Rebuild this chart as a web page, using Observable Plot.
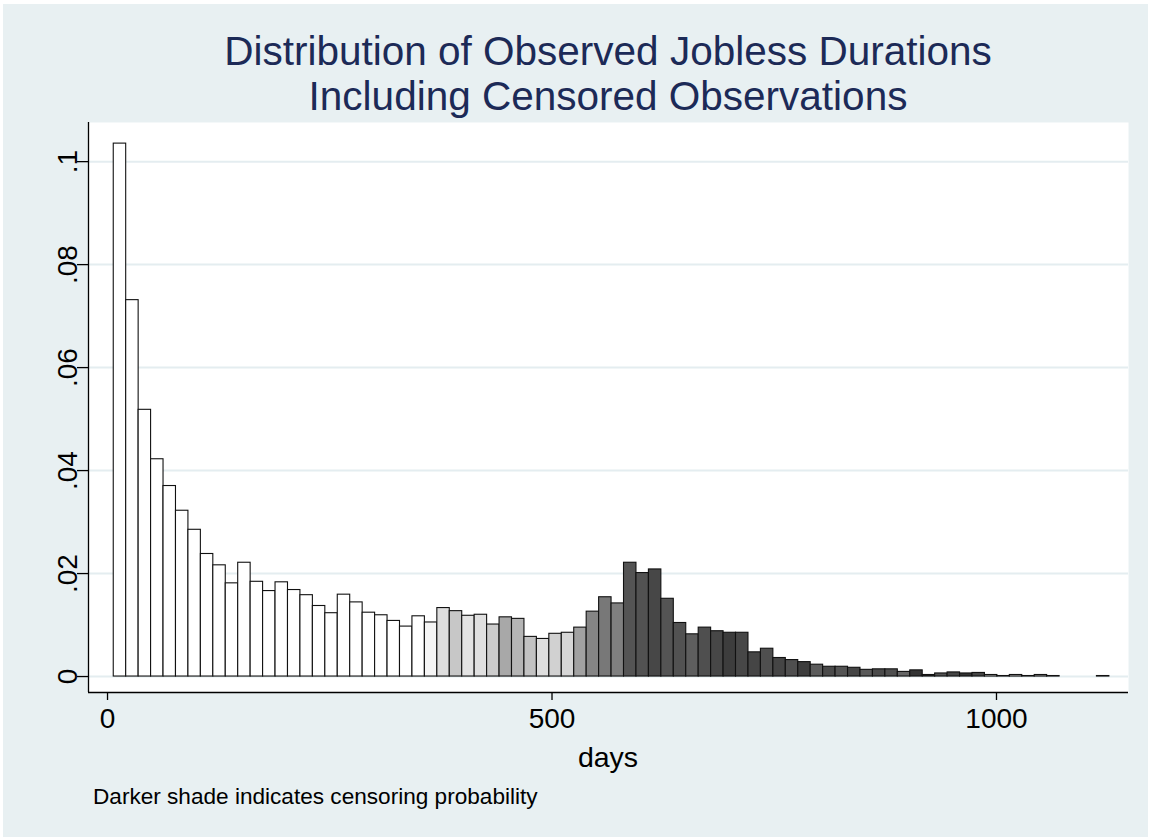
<!DOCTYPE html>
<html>
<head>
<meta charset="utf-8">
<script src="https://cdn.jsdelivr.net/npm/d3@7"></script>
<script src="https://cdn.jsdelivr.net/npm/@observablehq/plot@0.6"></script>
<style>
  body { margin: 0; background: #ffffff; }
  #wrap { position: relative; width: 1151px; height: 840px; overflow: hidden;
          font-family: "Liberation Sans", Arial, Helvetica, sans-serif; background: #ffffff; }
  #panel { position: absolute; left: 3px; top: 4px; width: 1145px; height: 833px; background: #e8f0f2; }
  .title { position: absolute; left: 0; width: 1216px; text-align: center;
           font-size: 40.5px; line-height: 45.3px; height: 45.3px; color: #1c2a57; white-space: nowrap; }
  #title1 { top: 28.5px; }
  #title2 { top: 74px; }
  #xlabel { position: absolute; left: 0; top: 741px; width: 1216px; text-align: center;
            font-size: 28.5px; line-height: 32px; color: #000; }
  #caption { position: absolute; left: 93px; top: 784px; font-size: 22.6px; line-height: 26px; color: #000; white-space: nowrap; }
  #chart { position: absolute; left: 0; top: 0; }
</style>
</head>
<body>
<div id="wrap">
  <div id="panel"></div>
  <div id="chart"></div>
  <div class="title" id="title1">Distribution of Observed Jobless Durations</div>
  <div class="title" id="title2">Including Censored Observations</div>
  <div id="xlabel">days</div>
  <div id="caption">Darker shade indicates censoring probability</div>
</div>
<script>
// Histogram bins: width 14 days, first bin starts at day 7
const binWidth = 14;
const firstBinStart = 7;

// Density per bin
const density = [
  0.1035, 0.0731, 0.0518, 0.0422, 0.0370, 0.0322, 0.0285, 0.0238, 0.0216, 0.0181,
  0.0221, 0.0184, 0.0166, 0.0183, 0.0168, 0.0158, 0.0137, 0.0123, 0.0159, 0.0144,
  0.0124, 0.0119, 0.0108, 0.0097, 0.0117, 0.0105, 0.0133, 0.0127, 0.0118, 0.0120,
  0.0101, 0.0115, 0.0112, 0.0077, 0.0073, 0.0083, 0.0085, 0.0095, 0.0126, 0.0154,
  0.0142, 0.0221, 0.0201, 0.0208, 0.0151, 0.0104, 0.0082, 0.0095, 0.0088, 0.0085,
  0.0085, 0.0047, 0.0054, 0.0036, 0.0032, 0.0028, 0.0023, 0.0019, 0.0019, 0.0017,
  0.0013, 0.0014, 0.0014, 0.0009, 0.0012, 0.0003, 0.0006, 0.0008, 0.0006, 0.0007,
  0.0003, 0.0001, 0.0003, 0.0001, 0.0003, 0.0001, 0, 0, 0, 0.0001
];

// Censoring probability per bin (drives the shade)
const censorProb = [
  0, 0, 0, 0, 0, 0, 0, 0, 0, 0,
  0, 0, 0, 0, 0, 0, 0, 0, 0, 0,
  0, 0, 0, 0, 0, 0.04, 0.13, 0.22, 0.11, 0.12,
  0.20, 0.34, 0.29, 0.24, 0.13, 0.18, 0.16, 0.37, 0.48, 0.53,
  0.50, 0.67, 0.68, 0.72, 0.67, 0.68, 0.63, 0.69, 0.72, 0.76,
  0.72, 0.73, 0.69, 0.73, 0.69, 0.76, 0.64, 0.71, 0.67, 0.73,
  0.65, 0.71, 0.69, 0.60, 0.80, 0.87, 0.67, 0.73, 0.80, 0.73,
  0.20, 0.93, 0.20, 0.87, 0.33, 1.00, 0, 0, 0, 0.80
];

const xTicks = [0, 500, 1000];
const yTicks = [0, 0.02, 0.04, 0.06, 0.08, 0.1];
const yTickLabels = ["0", ".02", ".04", ".06", ".08", ".1"];

const xDomain = [-21.4, 1148.5];
const yDomain = [-0.0031, 0.1076];

const bins = density.map((d, i) => ({
  x1: firstBinStart + i * binWidth,
  x2: firstBinStart + (i + 1) * binWidth,
  density: d,
  shade: censorProb[i]
})).filter(b => b.density > 0);

const chart = Plot.plot({
  width: 1151,
  height: 840,
  marginLeft: 88,
  marginRight: 23,
  marginTop: 122,
  marginBottom: 148,
  style: { background: "transparent", fontFamily: "Liberation Sans, Arial, sans-serif", fontSize: "28px", color: "#000" },
  x: { domain: xDomain },
  y: { domain: yDomain },
  color: { type: "linear", domain: [0, 1], range: ["#ffffff", "#000000"], interpolate: "rgb" },
  marks: [
    Plot.frame({ fill: "white", stroke: "none" }),
    Plot.ruleY(yTicks, { stroke: "#e4edf0", strokeWidth: 2 }),
    Plot.rectY(bins, { x1: "x1", x2: "x2", y: "density", fill: "shade", stroke: "#111", strokeWidth: 1.1 }),
    Plot.axisX({ ticks: xTicks, tickSize: 8, tickPadding: 8, tickFormat: d => String(d), label: null, fontSize: 28, strokeWidth: 1.3 }),
    Plot.axisY({ ticks: yTicks, tickSize: 11, tickFormat: () => "", label: null, strokeWidth: 1.3 }),
    Plot.text(yTicks, { y: d => d, text: (d, i) => yTickLabels[i], frameAnchor: "left", textAnchor: "middle", lineAnchor: "middle", dx: -20, rotate: -90, fontSize: 28, fill: "#000" }),
    Plot.ruleY([yDomain[0]], { stroke: "#000", strokeWidth: 1.3 }),
    Plot.ruleX([xDomain[0]], { stroke: "#000", strokeWidth: 1.3 })
  ]
});
document.getElementById("chart").appendChild(chart);
</script>
</body>
</html>
